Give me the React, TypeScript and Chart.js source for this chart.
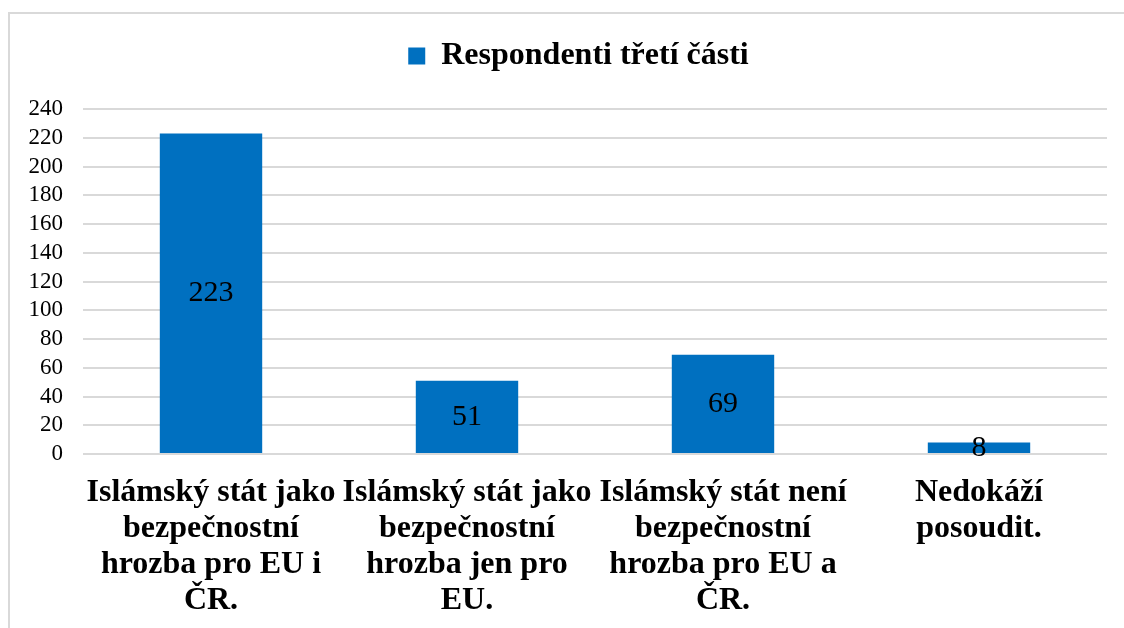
import React, { useEffect, useRef } from "react";
import { Chart, registerables } from "chart.js";

Chart.register(...registerables);

const categories: string[][] = [
  ["Islámský stát jako", "bezpečnostní", "hrozba pro EU i", "ČR."],
  ["Islámský stát jako", "bezpečnostní", "hrozba jen pro", "EU."],
  ["Islámský stát není", "bezpečnostní", "hrozba pro EU a", "ČR."],
  ["Nedokáží", "posoudit."],
];
const seriesName = "Respondenti třetí části";
const seriesValues: number[] = [223, 51, 69, 8];
const yMin = 0;
const yMax = 240;
const yStep = 20;

const SERIF = "'Times New Roman', 'Liberation Serif', serif";
const BAR_COLOR = "#0070C0";

const dataLabelPlugin = {
  id: "centerLabels",
  afterDatasetsDraw(chart: any) {
    const ctx = chart.ctx;
    const meta = chart.getDatasetMeta(0);
    const values = chart.data.datasets[0].data as number[];
    ctx.save();
    ctx.font = `30px ${SERIF}`;
    ctx.fillStyle = "#000000";
    ctx.textAlign = "center";
    ctx.textBaseline = "middle";
    meta.data.forEach((bar: any, i: number) => {
      const y = (bar.y + bar.base) / 2;
      ctx.fillText(String(values[i]), bar.x, y);
    });
    ctx.restore();
  },
};

const legendTweakPlugin = {
  id: "legendTweak",
  beforeUpdate(chart: any) {
    const lg = chart.legend;
    if (lg && !lg._tweaked) {
      const orig = lg.fit.bind(lg);
      lg.fit = function () {
        orig();
        this.height += 27;
      };
      lg._tweaked = true;
    }
  },
  afterLayout(chart: any) {
    const lg = chart.legend;
    if (lg) lg.left += 50;
  },
};

export default function App() {
  const canvasRef = useRef<HTMLCanvasElement | null>(null);

  useEffect(() => {
    if (!canvasRef.current) return;
    const chart = new Chart(canvasRef.current, {
      type: "bar",
      data: {
        labels: categories,
        datasets: [
          {
            label: seriesName,
            data: seriesValues,
            backgroundColor: BAR_COLOR,
            borderWidth: 0,
            barPercentage: 0.4,
            categoryPercentage: 1,
          },
        ],
      },
      options: {
        responsive: false,
        animation: false,
        devicePixelRatio: 1,
        layout: { padding: { left: 0, right: 17, top: 10, bottom: 0 } },
        plugins: {
          legend: {
            display: true,
            position: "top",
            labels: {
              boxWidth: 17,
              boxHeight: 17,
              padding: 30,
              color: "#000000",
              font: { family: SERIF, size: 32, weight: "bold" },
            },
          },
          tooltip: { enabled: false },
        },
        scales: {
          x: {
            grid: { display: false, drawTicks: false },
            border: { display: false },
            ticks: {
              autoSkip: false,
              maxRotation: 0,
              minRotation: 0,
              padding: 21,
              color: "#000000",
              font: { family: SERIF, size: 32, weight: "bold", lineHeight: 1.125 },
            },
            afterFit(scale: any) {
              scale.height = 174;
            },
          },
          y: {
            min: yMin,
            max: yMax,
            grid: { color: "#d9d9d9", lineWidth: 2, drawTicks: false },
            border: { display: false },
            ticks: {
              stepSize: yStep,
              autoSkip: false,
              padding: 20,
              color: "#000000",
              font: { family: SERIF, size: 23, lineHeight: 1 },
            },
            afterFit(scale: any) {
              scale.width = 83;
            },
          },
        },
      },
      plugins: [dataLabelPlugin, legendTweakPlugin],
    });
    return () => chart.destroy();
  }, []);

  return (
    <div>
      <div
        style={{
          position: "fixed",
          left: 8,
          top: 12,
          width: 1200,
          height: 700,
          border: "2px solid #d9d9d9",
          boxSizing: "border-box",
        }}
      />
      <canvas
        ref={canvasRef}
        width={1124}
        height={628}
        style={{ position: "fixed", left: 0, top: 0, width: 1124, height: 628 }}
      />
    </div>
  );
}
